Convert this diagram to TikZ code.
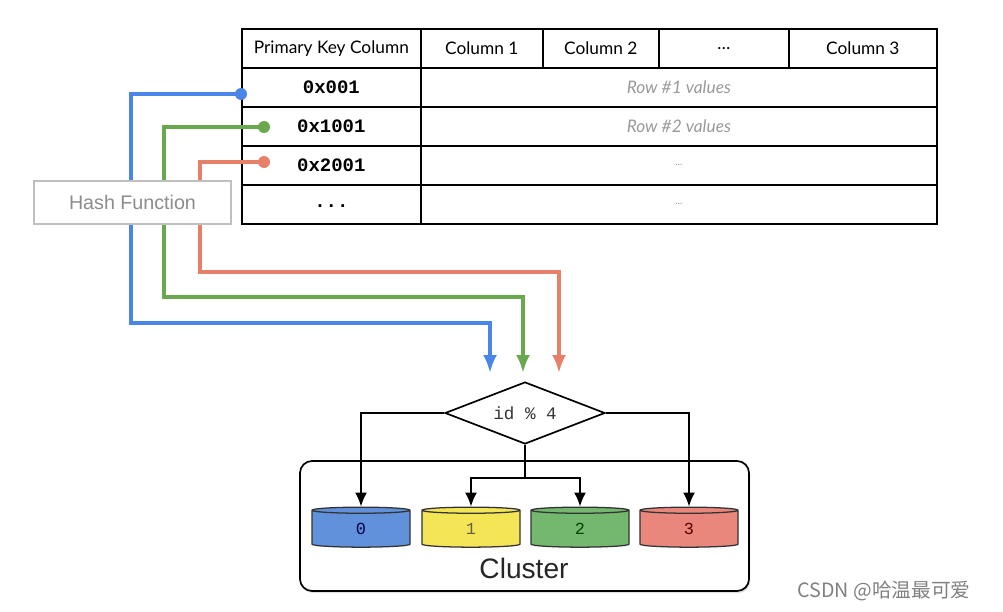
\documentclass[tikz,border=0pt]{standalone}
\usepackage{fontspec}
\setmainfont{Lato}
\newfontfamily\helvfont{Liberation Sans}
\newfontfamily\codefont{Liberation Mono}
\newfontfamily\cjkfont{Noto Sans CJK SC}
\usetikzlibrary{arrows.meta,positioning,shapes.geometric,shadows}
\definecolor{hashblue}{RGB}{74,134,232}
\definecolor{hashgreen}{RGB}{106,168,79}
\definecolor{hashorange}{RGB}{230,128,105}
\definecolor{shardblue}{RGB}{96,145,218}
\definecolor{shardyellow}{RGB}{243,229,85}
\definecolor{shardgreen}{RGB}{115,184,110}
\definecolor{shardred}{RGB}{233,135,124}
\newcommand{\pxu}{0.025cm}

\begin{document}
\begin{tikzpicture}[x=0.025cm,y=-0.025cm,>=Latex,
    every node/.style={align=center,inner sep=0pt},
    cell/.style={draw,line width=1.2pt,anchor=north west,minimum height=39*\pxu},
    headtext/.style={font=\fontsize{12.3}{14}\selectfont},
    keytext/.style={font=\codefont\bfseries\fontsize{13.5}{15}\selectfont},
    valtext/.style={font=\itshape\fontsize{12.3}{14}\selectfont,text=black!40},
    hashdot/.style={circle,minimum size=12*\pxu},
    hashline/.style={line width=2.5pt,-{Latex[length=18*\pxu,width=14*\pxu]}},
    shard/.style={cylinder,shape border rotate=90,shape aspect=0.6,draw=black!80,line width=0.9pt,
      minimum width=98*\pxu,minimum height=40*\pxu,font=\codefont\fontsize{12}{14}\selectfont},
    route/.style={line width=1.1pt,-{Latex[length=14*\pxu,width=12*\pxu]}}]
  \useasboundingbox (0,0) rectangle (1003,611);

  % table header
  \node[cell,headtext,minimum width=179*\pxu] (hpk) at (241,28) {Primary Key Column};
  \node[cell,headtext,minimum width=122*\pxu] (hc1) at (420,28) {Column 1};
  \node[cell,headtext,minimum width=116*\pxu] (hc2) at (542,28) {Column 2};
  \node[cell,headtext,minimum width=130*\pxu] (hcx) at (658,28) {\raisebox{-2pt}{\dots}};
  \node[cell,headtext,minimum width=148*\pxu] (hc3) at (788,28) {Column 3};

  % table rows
  \node[cell,keytext,minimum width=179*\pxu] (k1) at (241,67) {0x001};
  \node[cell,valtext,minimum width=516*\pxu] (v1) at (420,67) {Row \#1 values};
  \node[cell,keytext,minimum width=179*\pxu] (k2) at (241,106) {0x1001};
  \node[cell,valtext,minimum width=516*\pxu] (v2) at (420,106) {Row \#2 values};
  \node[cell,keytext,minimum width=179*\pxu] (k3) at (241,145) {0x2001};
  \node[cell,valtext,font=\fontsize{7}{8}\selectfont,minimum width=516*\pxu] (v3) at (420,145) {...};
  \node[cell,keytext,minimum width=179*\pxu] (k4) at (241,184) {\raisebox{-4pt}{...}};
  \node[cell,valtext,font=\fontsize{7}{8}\selectfont,minimum width=516*\pxu] (v4) at (420,184) {...};

  % key dots
  \node[hashdot,fill=hashblue] (dotb) at (241,94) {};
  \node[hashdot,fill=hashgreen] (dotg) at (264,127) {};
  \node[hashdot,fill=hashorange] (doto) at (264,162) {};

  % ends of the hash lines
  \coordinate (inb) at (490,373);
  \coordinate (ing) at (523,373);
  \coordinate (ino) at (559,373);

  \draw[hashline,hashblue] (dotb.center) -| (131,323) -| (inb);
  \draw[hashline,hashgreen] (dotg.center) -| (164,297) -| (ing);
  \draw[hashline,hashorange] (doto.center) -| (200,272) -| (ino);

  \node[draw=black!25,fill=white,line width=1pt,minimum width=197*\pxu,minimum height=43*\pxu,
    font=\helvfont\fontsize{14}{16}\selectfont,text=black!45] (hash) at (132.5,202.5) {Hash Function};

  % modulo and cluster
  \node[diamond,draw,line width=1.2pt,aspect=2.6,minimum width=160*\pxu,minimum height=62*\pxu,
    font=\codefont\fontsize{12.5}{14}\selectfont,text=black!80] (dia) at (525,413) {id \% 4};

  \node[draw,line width=1.2pt,rounded corners=12*\pxu,fill=white,minimum width=449*\pxu,minimum height=130*\pxu,
    drop shadow={opacity=0.25,shadow xshift=1pt,shadow yshift=-1.5pt}] (cluster) at (524.5,526) {};
  \node[font=\helvfont\fontsize{20}{22}\selectfont,text=black!85] (clusterlbl) at (524,568) {Cluster};

  \node[shard,fill=shardblue,text=blue!30!black] (c0) at (361,529) {0};
  \node[shard,fill=shardyellow,text=yellow!30!black] (c1) at (471,529) {1};
  \node[shard,fill=shardgreen,text=green!25!black] (c2) at (580,529) {2};
  \node[shard,fill=shardred,text=red!35!black] (c3) at (689,529) {3};

  \coordinate (split) at (525,478);
  \draw[route] (dia.west) -| (c0.north);
  \draw[route] (dia.east) -| (c3.north);
  \draw[line width=1.1pt] (dia.south) -- (split);
  \draw[route] (split) -| (c1.north);
  \draw[route] (split) -| (c2.north);

  \node[font=\cjkfont\fontsize{14}{16}\selectfont,text=black!50] (mark) at (884,591) {CSDN @哈温最可爱};
\end{tikzpicture}
\end{document}
